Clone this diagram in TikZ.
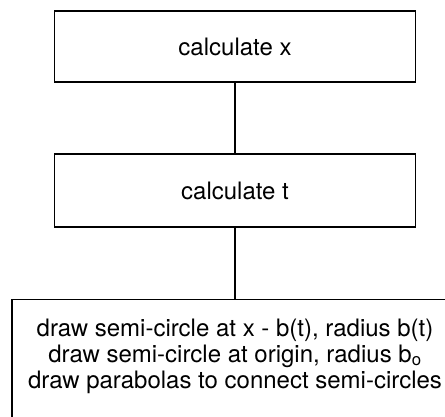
\documentclass[tikz,border=0pt]{standalone}
\usepackage{fontspec}
\setmainfont{TeX Gyre Heros}

\begin{document}
\begin{tikzpicture}[x=1bp, y=1bp,
    stage/.style={draw, line width=1.2bp, minimum width=361bp,
      font=\fontsize{24bp}{26bp}\selectfont}]
  \clip (0, 0) rectangle (445, 416);

  \node[stage, minimum height=71bp] (calcx) at (235, 369.5) {calculate x};
  \node[stage, minimum height=73bp] (calct) at (235, 225.5) {calculate t};
  \node[stage, anchor=north, minimum width=446bp, align=center,
        inner ysep=19bp, text depth=90bp] (plot) at (235, 117)
    {draw semi-circle at x - b(t), radius b(t)\\
     draw semi-circle at origin, radius b\textsubscript{o}\\
     draw parabolas to connect semi-circles};

  \draw[line width=1.2bp] (calcx) -- (calct) -- (plot);
\end{tikzpicture}
\end{document}
